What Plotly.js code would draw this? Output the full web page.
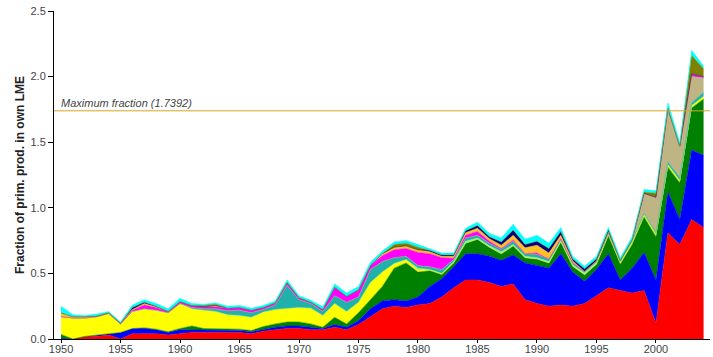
<!DOCTYPE html>
<html>
<head>
<meta charset="utf-8">
<script src="https://cdn.plot.ly/plotly-3.0.1.min.js"></script>
<style>html,body{margin:0;padding:0;background:#fff;}#chart{width:713px;height:357px;}</style>
</head>
<body>
<div id="chart"></div>
<script>
const years = [1950,1951,1952,1953,1954,1955,1956,1957,1958,1959,1960,1961,1962,1963,1964,1965,1966,1967,1968,1969,1970,1971,1972,1973,1974,1975,1976,1977,1978,1979,1980,1981,1982,1983,1984,1985,1986,1987,1988,1989,1990,1991,1992,1993,1994,1995,1996,1997,1998,1999,2000,2001,2002,2003,2004];

const red = [0,0,0.02,0.02,0.03,0,0.04,0.04,0.04,0.03,0.04,0.05,0.05,0.05,0.05,0.05,0.04,0.06,0.07,0.08,0.08,0.07,0.07,0.09,0.07,0.11,0.17,0.23,0.25,0.24,0.26,0.27,0.32,0.39,0.45,0.45,0.43,0.40,0.42,0.30,0.27,0.25,0.26,0.25,0.27,0.33,0.39,0.37,0.35,0.37,0.12,0.81,0.72,0.91,0.85];
const blue = [0.005,0,0,0.01,0.01,0.05,0.04,0.04,0.03,0.02,0.03,0.02,0.015,0.015,0.015,0.015,0.015,0.015,0.02,0.02,0.02,0.02,0.01,0.02,0.02,0.03,0.06,0.06,0.05,0.05,0.06,0.13,0.14,0.16,0.20,0.20,0.20,0.20,0.22,0.28,0.29,0.29,0.39,0.26,0.17,0.20,0.26,0.08,0.19,0.29,0.33,0.31,0.19,0.53,0.55];
const green = [0.03,0,0,0,0,0,0,0.005,0.005,0.005,0.01,0.03,0.015,0.015,0.015,0.01,0.01,0.02,0.025,0.03,0.03,0.025,0.01,0.055,0.025,0.06,0.07,0.11,0.24,0.29,0.19,0.12,0.03,0.03,0.08,0.11,0.07,0.05,0.07,0.04,0.05,0.04,0.09,0.045,0.05,0.04,0.14,0.12,0.18,0.27,0.33,0.19,0.28,0.32,0.43];
const yellow = [0.135,0.16,0.14,0.14,0.155,0.065,0.13,0.145,0.145,0.145,0.19,0.13,0.14,0.13,0.105,0.105,0.10,0.11,0.11,0.105,0.11,0.12,0.09,0.105,0.095,0.08,0.13,0.11,0.035,0.025,0.015,0.01,0.01,0,0,0,0,0,0,0,0,0,0,0,0,0,0,0.015,0.02,0.02,0.02,0.02,0.02,0.02,0.02];
const paleGreen = [0,0,0,0,0,0,0,0,0,0,0,0,0,0,0,0,0,0,0,0,0,0,0,0,0,0,0,0,0,0,0.015,0,0,0.01,0.015,0.01,0.01,0.015,0.01,0.01,0.01,0.01,0.01,0.01,0.015,0.015,0.01,0,0,0,0,0,0,0,0];
const teal = [0,0,0,0,0,0,0,0,0,0,0,0.01,0.01,0.02,0.03,0.04,0.035,0.02,0.035,0.175,0.06,0.035,0.03,0.06,0.07,0.04,0.10,0.08,0.045,0.025,0.02,0.02,0.03,0.015,0.025,0.02,0.02,0.02,0.025,0.02,0.025,0.02,0.015,0.015,0.01,0.01,0.015,0.01,0.01,0.01,0.01,0.02,0.02,0.02,0.03];
const khaki = [0,0,0,0,0,0,0,0,0,0,0,0,0,0,0,0,0,0,0,0,0,0,0,0,0,0,0,0,0,0,0,0,0,0,0,0,0,0,0,0,0,0,0,0,0,0,0,0.005,0.01,0.15,0.27,0.41,0.24,0.20,0.11];
const magenta = [0,0,0,0,0,0,0.01,0.03,0.02,0.01,0.015,0.015,0.015,0.015,0.02,0.02,0.02,0.015,0.015,0.02,0.015,0.01,0.015,0.065,0.045,0.055,0.03,0.045,0.06,0.06,0.10,0.10,0.09,0.01,0.02,0.03,0.015,0.005,0.01,0,0.01,0,0,0,0,0,0,0,0,0,0,0,0,0.02,0.01];
const orange = [0.03,0.01,0.01,0.005,0.005,0.005,0.005,0.01,0.005,0,0,0,0,0.01,0,0,0,0,0,0,0,0,0,0,0,0,0,0.015,0.02,0.02,0.02,0.015,0.01,0.015,0.02,0.025,0.02,0.025,0.035,0.045,0.06,0.045,0.025,0.015,0,0,0,0,0,0,0,0,0,0,0];
const navy = [0,0,0,0,0,0,0.015,0.01,0.005,0,0,0,0,0,0,0,0,0,0,0,0,0,0,0,0,0,0,0,0,0,0,0.01,0.01,0.01,0.015,0.02,0.015,0.025,0.04,0.025,0.03,0.035,0.03,0.015,0.02,0.015,0.015,0,0,0,0,0,0,0,0];
const olive = [0,0,0,0,0,0,0,0,0,0,0,0,0.01,0.01,0,0,0,0,0,0,0,0,0,0,0,0,0,0,0.02,0.02,0.02,0,0,0,0,0,0,0,0,0,0,0,0,0,0,0,0,0,0,0.01,0.03,0,0,0.14,0.06];
const cyan = [0.05,0.015,0.01,0.015,0.01,0.01,0.02,0.02,0.02,0.02,0.025,0.015,0.01,0.01,0.015,0.015,0.015,0.015,0.015,0.02,0.015,0.015,0.02,0.025,0.025,0.025,0.025,0.02,0.02,0.02,0.02,0.015,0.015,0.015,0.02,0.025,0.025,0.03,0.045,0.04,0.045,0.04,0.03,0.02,0.02,0.02,0.02,0.02,0.02,0.02,0.02,0.04,0.03,0.04,0.02];

const maxFraction = 1.7392;
const xTicks = [1950,1955,1960,1965,1970,1975,1980,1985,1990,1995,2000];
const yTicks = [0,0.5,1.0,1.5,2.0,2.5];

const series = [
  {name:'red', y:red, color:'#FF0000'},
  {name:'blue', y:blue, color:'#0000FF'},
  {name:'green', y:green, color:'#008000'},
  {name:'yellow', y:yellow, color:'#FFFF00'},
  {name:'palegreen', y:paleGreen, color:'#90EE90'},
  {name:'teal', y:teal, color:'#20B2AA'},
  {name:'khaki', y:khaki, color:'#BFB584'},
  {name:'magenta', y:magenta, color:'#FF00FF'},
  {name:'orange', y:orange, color:'#FFC125'},
  {name:'navy', y:navy, color:'#000080'},
  {name:'olive', y:olive, color:'#808000'},
  {name:'cyan', y:cyan, color:'#00FFFF'}
];

const traces = series.map(s => ({
  type:'scatter', mode:'lines', x:years, y:s.y, name:s.name,
  stackgroup:'one', fillcolor:s.color,
  line:{color:s.color, width:0.5}, hoverinfo:'x+y'
}));

const layout = {
  width:713, height:357,
  margin:{l:54, r:3, t:11, b:18},
  paper_bgcolor:'#fff', plot_bgcolor:'#fff',
  showlegend:false,
  font:{family:'Liberation Sans, Arial, sans-serif', size:11, color:'#444'},
  xaxis:{
    range:[1949.41, 2004.54], tickvals:xTicks, ticks:'outside', ticklen:3,
    tickcolor:'#000', showline:true, linecolor:'#000', linewidth:1,
    ticklabelstandoff:-3,
    showgrid:false, zeroline:false, tickfont:{size:11, color:'#444'}
  },
  yaxis:{
    range:[0,2.5], tickvals:yTicks, tickformat:'.1f', ticks:'outside', ticklen:5,
    tickcolor:'#000', showline:true, linecolor:'#000', linewidth:1,
    showgrid:false, zeroline:false, tickfont:{size:11, color:'#444'},
    title:{text:'Fraction of prim. prod. in own LME', font:{size:12, color:'#222', weight:'bold'}, standoff:3}
  },
  shapes:[{type:'line', xref:'paper', x0:0, x1:1, yref:'y', y0:maxFraction, y1:maxFraction,
    line:{color:'#DAA520', width:1}}],
  annotations:[{xref:'paper', x:0.008, xanchor:'left', yref:'y', y:maxFraction, yanchor:'bottom',
    text:'<i>Maximum fraction (' + maxFraction + ')</i>', showarrow:false,
    font:{size:11, color:'#444'}, yshift:0}]
};

Plotly.newPlot('chart', traces, layout, {displayModeBar:false, staticPlot:true});
</script>
</body>
</html>
